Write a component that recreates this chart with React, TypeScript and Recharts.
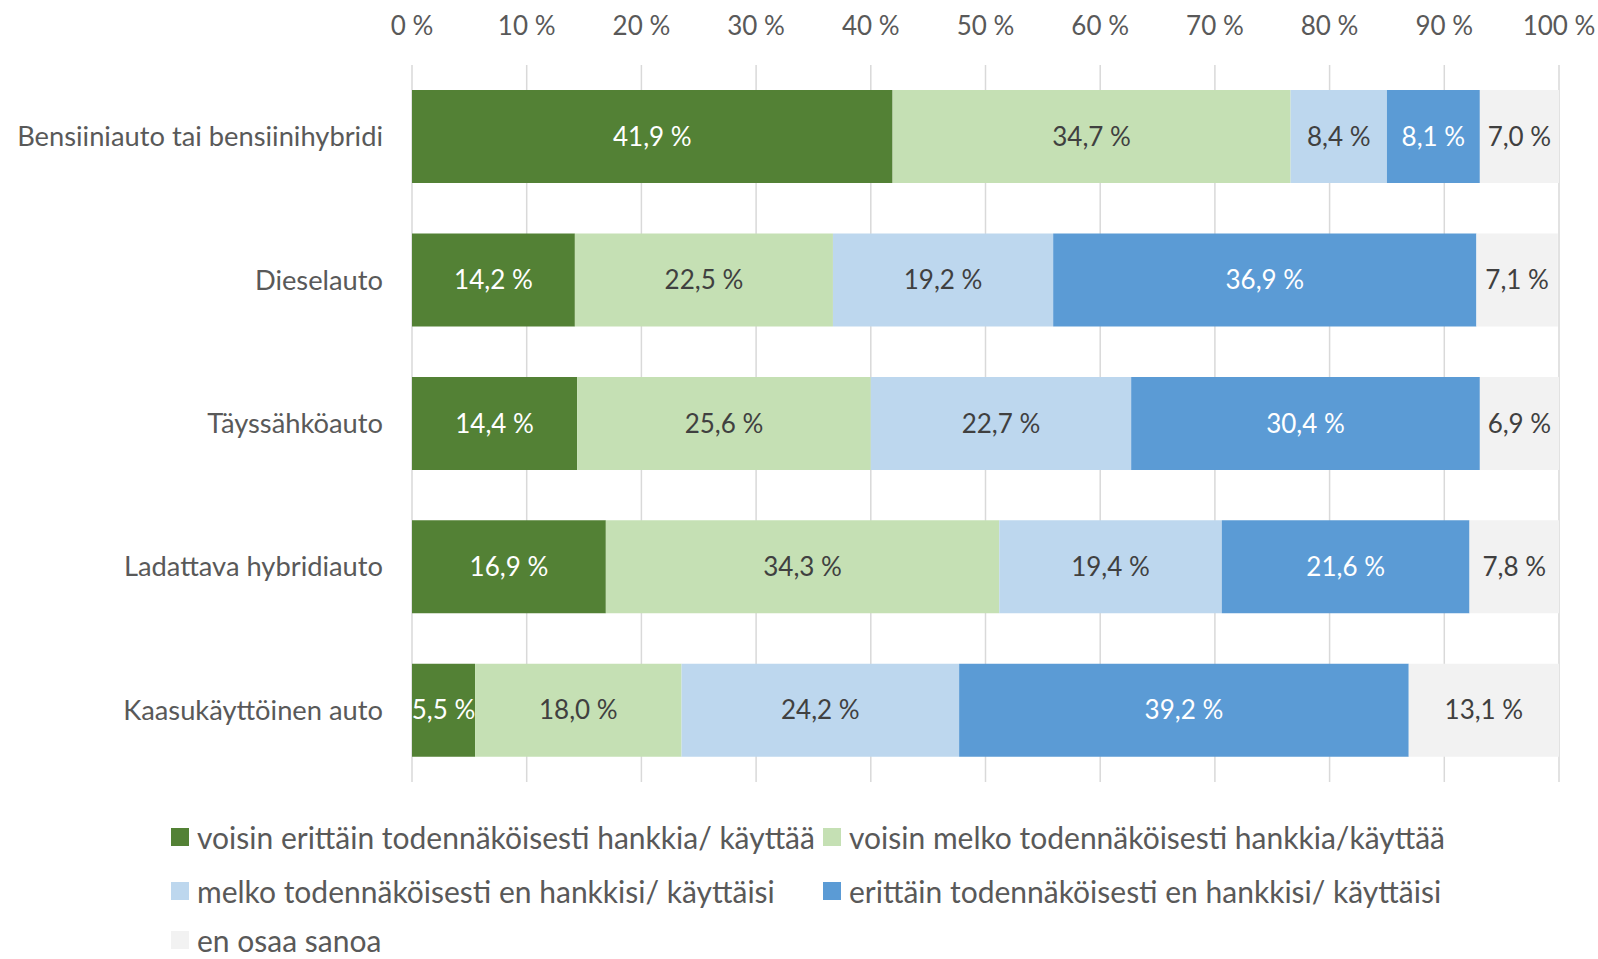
import React from "react";
import { BarChart, Bar, XAxis, YAxis, CartesianGrid, LabelList, Legend } from "recharts";

const categories = [
  "Bensiiniauto tai bensiinihybridi",
  "Dieselauto",
  "Täyssähköauto",
  "Ladattava hybridiauto ",
  "Kaasukäyttöinen auto",
];
const s1 = [41.9, 14.2, 14.4, 16.9, 5.5];
const s2 = [34.7, 22.5, 25.6, 34.3, 18.0];
const s3 = [8.4, 19.2, 22.7, 19.4, 24.2];
const s4 = [8.1, 36.9, 30.4, 21.6, 39.2];
const s5 = [7.0, 7.1, 6.9, 7.8, 13.1];
const seriesNames = [
  "voisin erittäin todennäköisesti hankkia/ käyttää",
  "voisin melko todennäköisesti hankkia/käyttää",
  "melko todennäköisesti en hankkisi/ käyttäisi",
  "erittäin todennäköisesti en hankkisi/ käyttäisi",
  "en osaa sanoa",
];
const colors = ["#538135", "#C5E0B4", "#BDD7EE", "#5B9BD5", "#F2F2F2"];
const labelColors = ["#FFFFFF", "#404040", "#404040", "#FFFFFF", "#404040"];
const xTicks = [0, 10, 20, 30, 40, 50, 60, 70, 80, 90, 100];

const keys = ["s1", "s2", "s3", "s4", "s5"];
const data = categories.map((c, i) => ({
  name: c,
  s1: s1[i],
  s2: s2[i],
  s3: s3[i],
  s4: s4[i],
  s5: s5[i],
}));

const FONT = "Lato, 'Noto Sans', sans-serif";
const TEXT = "#595959";
const fmt = (v: any) => `${Number(v).toFixed(1).replace(".", ",")} %`;

const CatTick = (props: any) => {
  const { x, y, payload } = props;
  return (
    <text x={x} y={y} dy="0.35em" textAnchor="end" fill={TEXT} fontSize={27.3} fontFamily={FONT}>
      {payload.value}
    </text>
  );
};

const legendPos = [
  { x: 171, y: 837 },
  { x: 823, y: 891 },
  { x: 171, y: 891 },
  { x: 823, y: 891 },
  { x: 171, y: 940 },
];
legendPos[1] = { x: 823, y: 837 };

const LegendContent = () => (
  <div style={{ position: "relative", width: 1598, height: 959 }}>
    {seriesNames.map((n, i) => (
      <div
        key={n}
        style={{
          position: "absolute",
          left: legendPos[i].x,
          top: legendPos[i].y - 13,
          height: 26,
          lineHeight: "26px",
          display: "flex",
          alignItems: "center",
          whiteSpace: "nowrap",
          fontFamily: FONT,
          fontSize: 30,
          color: TEXT,
        }}
      >
        <span style={{ display: "inline-block", width: 18, height: 18, background: colors[i], marginRight: 8 }} />
        <span>{n}</span>
      </div>
    ))}
  </div>
);

export default function App() {
  return (
    <div style={{ position: "absolute", left: 0, top: 0, width: 1598, height: 959, fontFamily: FONT, background: "#fff", overflow: "hidden" }}>
      <BarChart
        width={1598}
        height={959}
        data={data}
        layout="vertical"
        margin={{ top: 0, right: 39, bottom: 177, left: 0 }}
        barCategoryGap="17.5%"
      >
        <CartesianGrid horizontal={false} vertical={true} stroke="#D9D9D9" strokeWidth={1.5} />
        <XAxis
          type="number"
          orientation="top"
          domain={[0, 100]}
          ticks={xTicks}
          allowDataOverflow
          height={65}
          axisLine={false}
          tickLine={false}
          tickSize={0}
          tickMargin={30}
          tickFormatter={(v: any) => `${v} %`}
          tick={{ fill: TEXT, fontSize: 26, fontFamily: FONT }}
          interval={0}
        />
        <YAxis
          type="category"
          dataKey="name"
          width={412}
          axisLine={false}
          tickLine={false}
          tickSize={0}
          tickMargin={29}
          tick={<CatTick />}
          interval={0}
        />
        <Legend
          layout="horizontal"
          verticalAlign="middle"
          align="center"
          content={<LegendContent />}
          wrapperStyle={{ position: "absolute", left: 0, top: 0, width: 1598, height: 959, pointerEvents: "none" }}
        />
        {keys.map((k, i) => (
          <Bar key={k} dataKey={k} name={seriesNames[i]} stackId="a" fill={colors[i]} isAnimationActive={false}>
            <LabelList
              dataKey={k}
              position="center"
              formatter={fmt}
              fill={labelColors[i]}
              fontSize={26}
              fontFamily={FONT}
            />
          </Bar>
        ))}
      </BarChart>
    </div>
  );
}
